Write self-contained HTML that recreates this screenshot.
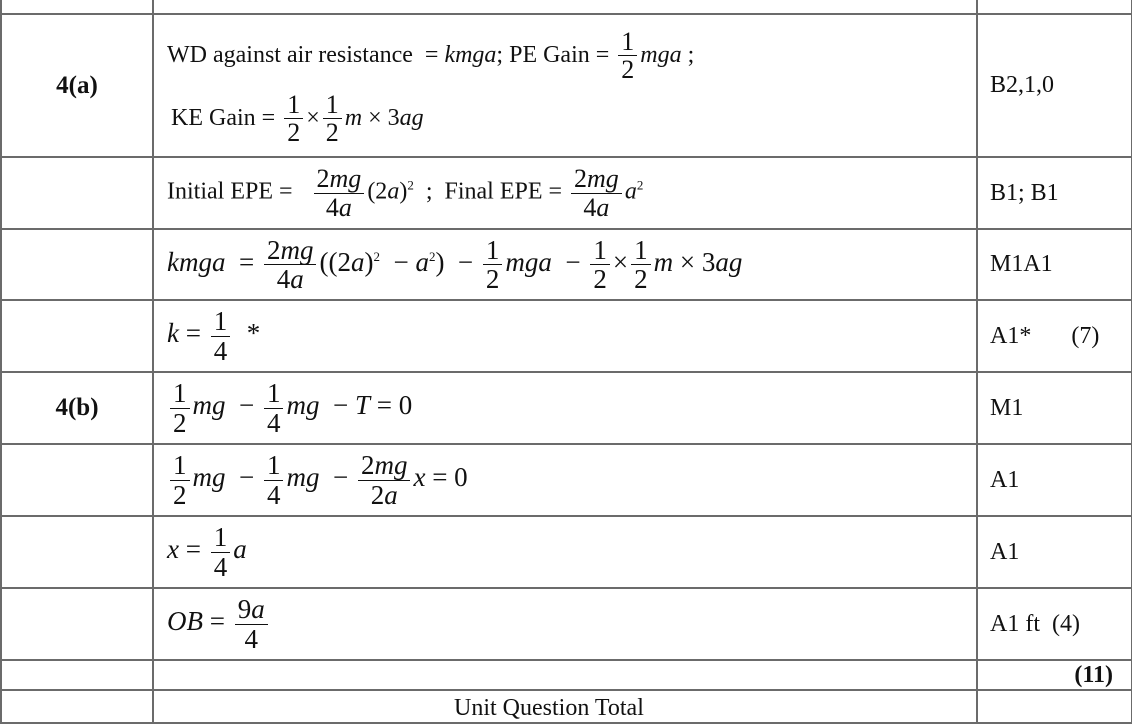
<!DOCTYPE html>
<html><head><meta charset="utf-8">
<style>
html,body{margin:0;padding:0;background:#fff;}
body{width:1132px;height:697px;overflow:hidden;position:relative;font-family:"Liberation Serif",serif;color:#111;}
table{position:absolute;left:0;top:-2px;border-collapse:collapse;table-layout:fixed;width:1131px;}
td{border:2px solid #6b6b6b;padding:0;vertical-align:middle;font-size:24px;white-space:nowrap;}
td.q{text-align:center;font-weight:bold;font-size:25px;}
td.w{padding-left:13px;}
td.m{padding-left:12px;font-size:24px;}
i{font-style:italic;}
.f{display:inline-block;vertical-align:middle;text-align:center;line-height:1.05;margin:0 3px;}
.f>span{display:block;padding:0 3px;}
.f>span:first-child{border-bottom:1px solid #111;}
.e{font-size:27px;}
td.w .e{font-size:26px;}
sup{font-size:13px;}
</style></head><body>
<table>
<colgroup><col style="width:152px"><col style="width:824px"><col style="width:155px"></colgroup>
<tr style="height:15px"><td></td><td></td><td></td></tr>
<tr style="height:143px"><td class="q">4(a)</td><td class="w">
<div style="height:64px;line-height:64px;">WD against air resistance &nbsp;= <i>kmga</i>; PE Gain = <span class="f e"><span>1</span><span>2</span></span><i>mga</i> ;</div>
<div style="height:62px;line-height:62px;padding-left:4px;">KE Gain = <span class="f e"><span>1</span><span>2</span></span>×<span class="f e"><span>1</span><span>2</span></span><i>m</i> × 3<i>ag</i></div>
</td><td class="m">B2,1,0</td></tr>
<tr style="height:72px"><td></td><td class="w">Initial EPE = &nbsp; <span class="f e"><span>2<i>mg</i></span><span>4<i>a</i></span></span>(2<i>a</i>)<sup>2</sup> &nbsp;; &nbsp;Final EPE = <span class="f e"><span>2<i>mg</i></span><span>4<i>a</i></span></span><i>a</i><sup>2</sup></td><td class="m">B1; B1</td></tr>
<tr style="height:71px"><td></td><td class="w e"><i>kmga</i> &nbsp;= <span class="f"><span>2<i>mg</i></span><span>4<i>a</i></span></span>((2<i>a</i>)<sup>2</sup> &nbsp;− <i>a</i><sup>2</sup>) &nbsp;− <span class="f"><span>1</span><span>2</span></span><i>mga</i> &nbsp;− <span class="f"><span>1</span><span>2</span></span>×<span class="f"><span>1</span><span>2</span></span><i>m</i> × 3<i>ag</i></td><td class="m">M1A1</td></tr>
<tr style="height:72px"><td></td><td class="w e"><i>k</i> = <span class="f"><span>1</span><span>4</span></span> &nbsp;*</td><td class="m">A1* <span style="margin-left:34px">(7)</span></td></tr>
<tr style="height:72px"><td class="q">4(b)</td><td class="w e"><span class="f"><span>1</span><span>2</span></span><i>mg</i> &nbsp;− <span class="f"><span>1</span><span>4</span></span><i>mg</i> &nbsp;− <i>T</i> = 0</td><td class="m">M1</td></tr>
<tr style="height:72px"><td></td><td class="w e"><span class="f"><span>1</span><span>2</span></span><i>mg</i> &nbsp;− <span class="f"><span>1</span><span>4</span></span><i>mg</i> &nbsp;− <span class="f"><span>2<i>mg</i></span><span>2<i>a</i></span></span><i>x</i> = 0</td><td class="m">A1</td></tr>
<tr style="height:72px"><td></td><td class="w e"><i>x</i> = <span class="f"><span>1</span><span>4</span></span><i>a</i></td><td class="m">A1</td></tr>
<tr style="height:72px"><td></td><td class="w e"><i>OB</i> = <span class="f"><span>9<i>a</i></span><span>4</span></span></td><td class="m">A1 ft &nbsp;(4)</td></tr>
<tr style="height:30px"><td></td><td></td><td style="text-align:right;padding-right:18px;font-weight:bold;font-size:24px;">(11)</td></tr>
<tr style="height:30px"><td></td><td style="vertical-align:top;padding-left:300px;font-size:24px;padding-top:4px;">Unit Question Total</td><td></td></tr>
</table>
</body></html>
